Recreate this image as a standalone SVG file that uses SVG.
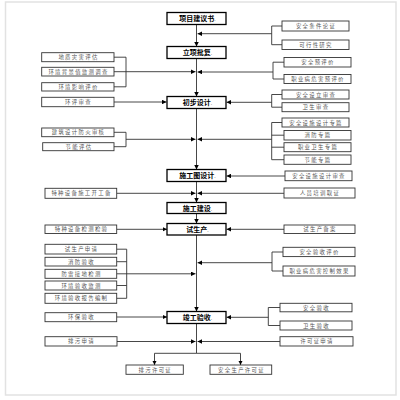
<svg xmlns="http://www.w3.org/2000/svg" width="400" height="400" viewBox="0 0 400 400">
<style>
.m{fill:#fff;stroke:#000;stroke-width:1.3}
.b{fill:#fff;stroke:#333;stroke-width:0.9}
.mt{font-family:"Noto Sans CJK SC",sans-serif;font-size:7px;font-weight:bold;fill:#000;text-anchor:middle}
.mt tspan{font-weight:normal;fill:#777;font-size:5px}
.st{font-family:"Noto Sans CJK SC",sans-serif;font-size:5.4px;fill:#555;text-anchor:middle;letter-spacing:1.3px}
.c path{fill:none;stroke:#333;stroke-width:0.9}
.c .ar{marker-end:url(#a)}
</style>
<defs>
<marker id="a" viewBox="0 0 6 6" refX="6" refY="3" markerWidth="4.5" markerHeight="4.5" markerUnits="userSpaceOnUse" orient="auto"><path d="M0,0L6,3L0,6z" fill="#000"/></marker>
</defs>
<rect x="5.5" y="2" width="390.5" height="393" fill="#fff" stroke="#e2e2e2" stroke-width="1.5"/>
<g class="c" id="connectors">
<path class="ar" d="M196.5,24.3V46.5"/>
<path class="ar" d="M196.5,58.5V96.5"/>
<path class="ar" d="M196.5,108.5V169.5"/>
<path class="ar" d="M196.5,181.5V202.5"/>
<path class="ar" d="M196.5,213.5V223.5"/>
<path class="ar" d="M196.5,235V311.5"/>
<path d="M196.5,323.5V353.3H154.5M196.5,353.3H240.5"/>
<path class="ar" d="M154.5,353.3V365"/>
<path class="ar" d="M240.5,353.3V365"/>
<path d="M282,26H271.7V44.7H282"/>
<path class="ar" d="M271.7,33.7H197.5"/>
<path d="M114,57.2H126V86.8H114"/>
<path class="ar" d="M114,71.7H195.5"/>
<path d="M284,62.2H273V79H284"/>
<path class="ar" d="M273,72H197.5"/>
<path class="ar" d="M114,102H166.5"/>
<path d="M282,94.5H271.7V107.2H282"/>
<path class="ar" d="M271.7,102.3H226.5"/>
<path d="M114,132.3H126V146.7H114"/>
<path class="ar" d="M126,139.3H195.5"/>
<path d="M282,122.5H271.7V159.7H284M271.7,135.2H284M271.7,147.2H284"/>
<path class="ar" d="M271.7,139.3H197.5"/>
<path class="ar" d="M285,176H226.5"/>
<path class="ar" d="M116.7,193.3H195.5"/>
<path class="ar" d="M284,193.3H197.5"/>
<path class="ar" d="M116.7,229.3H167"/>
<path class="ar" d="M284,229.3H226.5"/>
<path d="M116.7,249.2H126.7V298.3H116.7M116.7,261.7H126.7M116.7,285.5H126.7"/>
<path class="ar" d="M116.7,273.8H195.5"/>
<path d="M283,252H272V271H283"/>
<path class="ar" d="M272,262.7H197.5"/>
<path d="M280,307.5H268.3V325.5H280"/>
<path class="ar" d="M268.3,317.3H226.5"/>
<path class="ar" d="M116.7,317H167"/>
<path class="ar" d="M117,341.5H195.5"/>
<path class="ar" d="M280,341.5H197.5"/>
</g>
<g id="n1"><rect class="m" x="167" y="12.5" width="59" height="12"/><text class="mt" x="197.5" y="21">项目建议书<tspan>.</tspan></text></g>
<g id="n2"><rect class="m" x="167" y="46.5" width="59" height="12"/><text class="mt" x="197.5" y="55">立项批复<tspan>.</tspan></text></g>
<g id="n3"><rect class="m" x="167" y="96.5" width="59" height="12"/><text class="mt" x="197.5" y="105">初步设计<tspan>.</tspan></text></g>
<g id="n4"><rect class="m" x="167" y="169.5" width="59" height="12"/><text class="mt" x="197.5" y="178">施工图设计<tspan>.</tspan></text></g>
<g id="n5"><rect class="m" x="167" y="202.5" width="59" height="11"/><text class="mt" x="197.5" y="210.5">施工建设<tspan>.</tspan></text></g>
<g id="n6"><rect class="m" x="167" y="223.5" width="59" height="11.5"/><text class="mt" x="197.5" y="231.8">试生产<tspan>.</tspan></text></g>
<g id="n7"><rect class="m" x="167" y="311.5" width="59" height="12"/><text class="mt" x="197.5" y="320">竣工验收<tspan>.</tspan></text></g>
<g id="r1"><rect class="b" x="282" y="21" width="67" height="10"/><text class="st" x="316" y="28">安全条件论证</text></g>
<g id="r2"><rect class="b" x="282" y="40" width="67" height="9.5"/><text class="st" x="316" y="46.8">可行性研究</text></g>
<g id="r3"><rect class="b" x="284" y="57.5" width="67" height="9.5"/><text class="st" x="318" y="64.3">安全预评价</text></g>
<g id="r4"><rect class="b" x="284" y="74.5" width="67" height="9"/><text class="st" x="318" y="81">职业病危害预评价</text></g>
<g id="r5"><rect class="b" x="282" y="90" width="67" height="9"/><text class="st" x="316" y="96.5">安全设立审查</text></g>
<g id="r6"><rect class="b" x="282" y="102.7" width="67" height="9"/><text class="st" x="316" y="109.2">卫生审查</text></g>
<g id="r7"><rect class="b" x="282" y="118" width="67" height="9"/><text class="st" x="316" y="124.5">安全设施设计专篇</text></g>
<g id="r8"><rect class="b" x="284" y="130.5" width="67" height="9.5"/><text class="st" x="318" y="137.3">消防专篇</text></g>
<g id="r9"><rect class="b" x="284" y="142.7" width="67" height="9"/><text class="st" x="318" y="149.2">职业卫生专篇</text></g>
<g id="r10"><rect class="b" x="284" y="155" width="67" height="9.3"/><text class="st" x="318" y="161.6">节能专篇</text></g>
<g id="r11"><rect class="b" x="285" y="171" width="67" height="9.7"/><text class="st" x="319" y="177.8">安全设施设计审查</text></g>
<g id="r12"><rect class="b" x="284" y="188" width="71" height="10"/><text class="st" x="320" y="195">人员培训取证</text></g>
<g id="r13"><rect class="b" x="284" y="225" width="71" height="8.5"/><text class="st" x="320" y="231.3">试生产备案</text></g>
<g id="r14"><rect class="b" x="283" y="247.3" width="72" height="9.3"/><text class="st" x="319.5" y="254">安全验收评价</text></g>
<g id="r15"><rect class="b" x="283" y="266" width="72" height="10"/><text class="st" x="319.5" y="273">职业病危害控制效果</text></g>
<g id="r16"><rect class="b" x="280" y="303.3" width="72" height="8.5"/><text class="st" x="316.5" y="309.6">安全验收</text></g>
<g id="r17"><rect class="b" x="280" y="321" width="72" height="9"/><text class="st" x="316.5" y="327.5">卫生验收</text></g>
<g id="r18"><rect class="b" x="280" y="336.7" width="73" height="9.3"/><text class="st" x="317" y="343.4">许可证申请</text></g>
<g id="l1"><rect class="b" x="41.7" y="52.7" width="72.3" height="9"/><text class="st" x="78.5" y="59.2">地质灾害评估</text></g>
<g id="l2"><rect class="b" x="41.7" y="67.3" width="72.3" height="8.7"/><text class="st" x="78.5" y="73.7">环境背景值监测调查</text></g>
<g id="l3"><rect class="b" x="41.7" y="82.7" width="72.3" height="8.3"/><text class="st" x="78.5" y="88.9">环境影响评价</text></g>
<g id="l4"><rect class="b" x="41.7" y="97.3" width="72.3" height="9.4"/><text class="st" x="78.5" y="104">环评审查</text></g>
<g id="l5"><rect class="b" x="41.7" y="128" width="72.3" height="8.7"/><text class="st" x="78.5" y="134.4">建筑设计防火审核</text></g>
<g id="l6"><rect class="b" x="42.7" y="142.7" width="71.3" height="8"/><text class="st" x="79" y="148.7">节能评估</text></g>
<g id="l7"><rect class="b" x="45" y="188.3" width="71.7" height="10"/><text class="st" x="81.5" y="195.3">特种设备施工开工备</text></g>
<g id="l8"><rect class="b" x="45" y="225" width="71.7" height="8.5"/><text class="st" x="81.5" y="231.3">特种设备检测检验</text></g>
<g id="l9"><rect class="b" x="45" y="244.3" width="71.7" height="9.7"/><text class="st" x="81.5" y="251.1">试生产申请</text></g>
<g id="l10"><rect class="b" x="45" y="257.3" width="71.7" height="8.7"/><text class="st" x="81.5" y="263.7">消防验收</text></g>
<g id="l11"><rect class="b" x="45" y="269.3" width="71.7" height="9"/><text class="st" x="81.5" y="275.8">防雷接地检测</text></g>
<g id="l12"><rect class="b" x="45" y="281" width="71.7" height="9"/><text class="st" x="81.5" y="287.5">环境验收监测</text></g>
<g id="l13"><rect class="b" x="45" y="293.3" width="71.7" height="10"/><text class="st" x="81.5" y="300.3">环境验收报告编制</text></g>
<g id="l14"><rect class="b" x="45" y="312.7" width="71.7" height="9"/><text class="st" x="81.5" y="319.2">环保验收</text></g>
<g id="l15"><rect class="b" x="45" y="336.7" width="72" height="9.3"/><text class="st" x="81.5" y="343.4">排污申请</text></g>
<g id="b1"><rect class="b" x="126" y="365" width="57.3" height="9.3"/><text class="st" x="155.3" y="371.7">排污许可证</text></g>
<g id="b2"><rect class="b" x="210" y="365" width="61.7" height="9.3"/><text class="st" x="241.5" y="371.7">安全生产许可证</text></g>
</svg>
